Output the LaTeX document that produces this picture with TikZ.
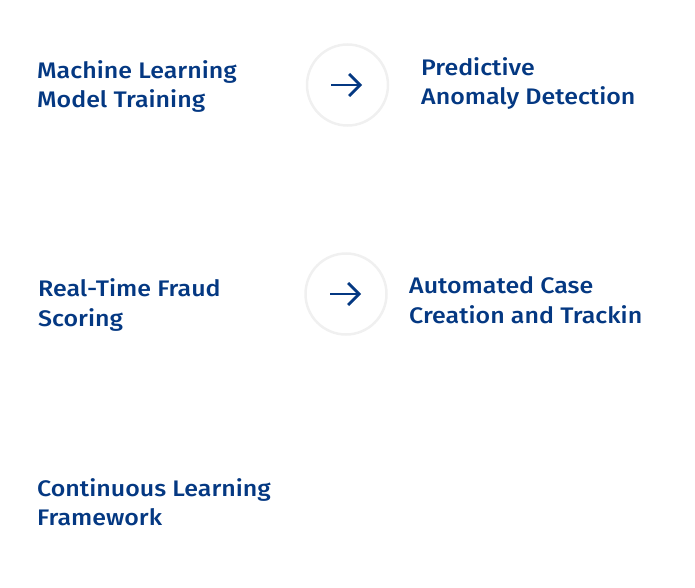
\documentclass[tikz,border=0pt]{standalone}
\usepackage{fontspec}
\setmainfont{Fira Sans}[UprightFont=* Medium, FakeStretch=1.11]
\usetikzlibrary{arrows.meta}
\definecolor{navy}{RGB}{4,56,130}
\definecolor{ringgray}{RGB}{240,240,240}
\tikzset{
  label/.style={anchor=base west, inner sep=0pt, align=left, text=navy,
    font=\fontsize{22.5pt}{29.5pt}\selectfont},
  ring/.style={circle, draw=ringgray, line width=2.5pt, minimum size=81pt, inner sep=0pt},
  flow/.style={draw=navy, line width=2.8pt, -{Straight Barb[length=11pt, width=22pt, line width=2.8pt]}}
}
\begin{document}
\begin{tikzpicture}[x=1pt, y=-1pt]
\useasboundingbox (0,0) rectangle (695,588);
\node[label] (ml) at (37,108) {Machine Learning\\Model Training};
\node[label] (pad) at (421,105) {Predictive\\Anomaly Detection};
\node[label] (rt) at (38,326) {Real-Time Fraud\\Scoring};
\node[label] (acc) at (409,323) {Automated Case\\Creation and Trackin};
\node[label] (cl) at (37,525.5) {Continuous Learning\\Framework};
\node[ring] (c1) at (347.5,85) {};
\node[ring] (c2) at (346,294) {};
\coordinate (a1s) at (331,85);
\coordinate (a1e) at (362,85);
\coordinate (a2s) at (330,294);
\coordinate (a2e) at (361,294);
\draw[flow] (a1s) -- (a1e);
\draw[flow] (a2s) -- (a2e);
\end{tikzpicture}
\end{document}
